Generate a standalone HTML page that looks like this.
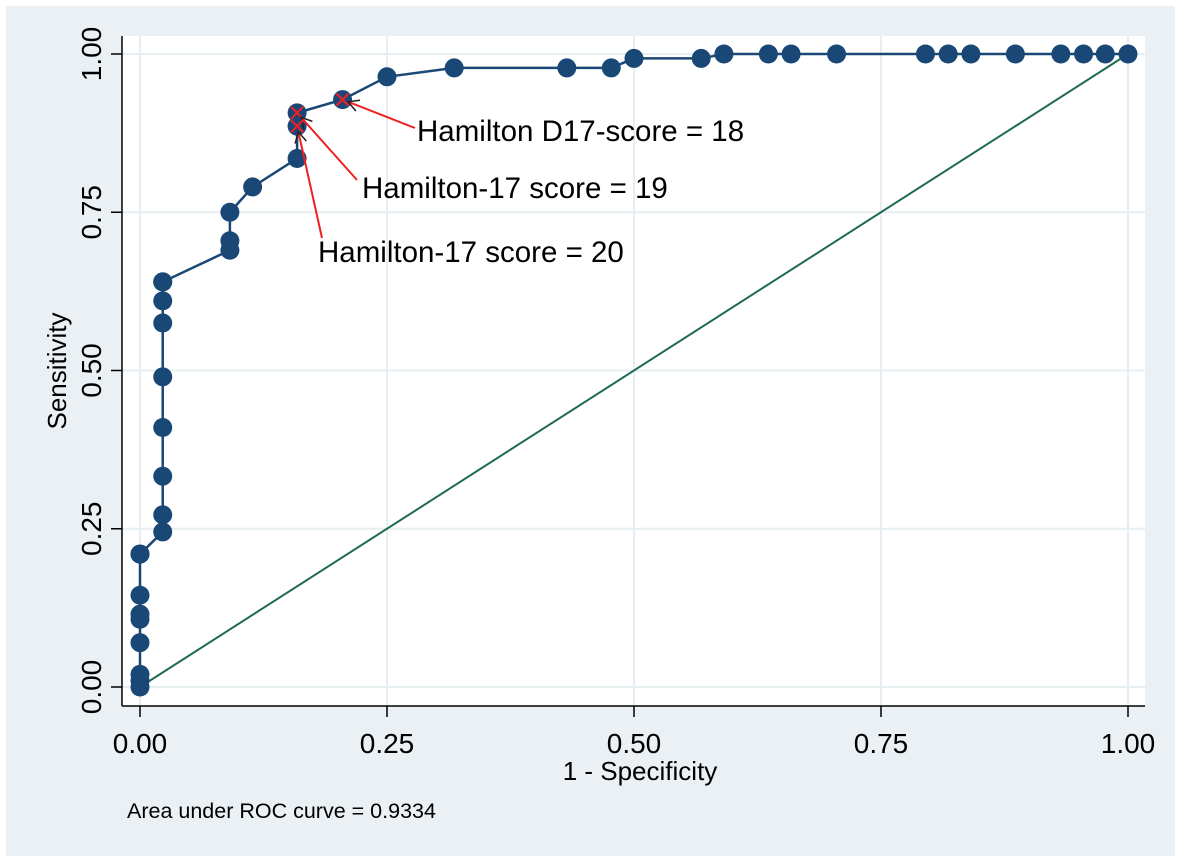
<!DOCTYPE html>
<html><head><meta charset="utf-8"><style>
body{margin:0;background:#fff;width:1181px;height:862px;overflow:hidden;font-family:"Liberation Sans",Arial,sans-serif}
</style></head><body>
<svg id="chart" width="1181" height="862" xmlns="http://www.w3.org/2000/svg" font-family="Liberation Sans, Arial, sans-serif">
<rect x="6" y="6" width="1169" height="850" fill="#eaf0f3"/>
<rect x="122" y="36" width="1023" height="670" fill="#fff"/>
<g id="grid"></g>
<g id="axes"></g>
<line id="ref" stroke="#1e6b52" stroke-width="2"/>
<path id="curve" fill="none" stroke="#1a4876" stroke-width="2.5"/>
<g id="pts"></g>
<g id="ann"></g>
<text x="640" y="780" font-size="26" text-anchor="middle">1 - Specificity</text>
<text transform="translate(66,371) rotate(-90)" font-size="26" text-anchor="middle">Sensitivity</text>
<text x="127" y="818" font-size="21.5">Area under ROC curve = 0.9334</text>
</svg>
<script>
const fpr=[0,0,0,0,0,0,0,0,0,0.023,0.023,0.023,0.023,0.023,0.023,0.023,0.023,0.023,0.091,0.091,0.091,0.114,0.159,0.159,0.159,0.205,0.25,0.318,0.432,0.477,0.5,0.568,0.591,0.636,0.659,0.705,0.795,0.818,0.841,0.886,0.932,0.955,0.977,1];
const tpr=[0,0.01,0.02,0.07,0.107,0.115,0.145,0.21,0.21,0.245,0.272,0.333,0.41,0.49,0.575,0.61,0.64,0.64,0.69,0.705,0.75,0.79,0.835,0.886,0.907,0.928,0.964,0.978,0.978,0.978,0.993,0.993,1,1,1,1,1,1,1,1,1,1,1,1];
const crossX=[0.205,0.159,0.159];
const crossY=[0.928,0.907,0.886];
const ticks=[0,0.25,0.5,0.75,1];
const tickLabels=["0.00","0.25","0.50","0.75","1.00"];
const annText=["Hamilton D17-score = 18","Hamilton-17 score = 19","Hamilton-17 score = 20"];
const NS="http://www.w3.org/2000/svg";
const X=v=>140+v*988, Y=v=>687-v*633;
function mk(t,a,p){const e=document.createElementNS(NS,t);for(const k in a)e.setAttribute(k,a[k]);document.getElementById(p).appendChild(e);return e;}
ticks.forEach((t,i)=>{
 let g=mk('line',{x1:X(t),x2:X(t),y1:36,y2:706,stroke:'#e6eef2','stroke-width':2},'grid');
 
 
 g=mk('line',{x1:122,x2:1145,y1:Y(t),y2:Y(t),stroke:'#e6eef2','stroke-width':2},'grid');
 
 
 let e=mk('line',{x1:X(t),x2:X(t),y1:706,y2:717,stroke:'#000','stroke-width':1.5},'axes');
 
 
 e=mk('text',{x:X(t),y:753,'font-size':28,'text-anchor':'middle'},'axes');e.textContent=tickLabels[i];
 
 
 e=mk('line',{x1:111,x2:122,y1:Y(t),y2:Y(t),stroke:'#000','stroke-width':1.5},'axes');
 
 
 e=mk('text',{transform:`translate(101,${Y(t)}) rotate(-90)`,'font-size':28,'text-anchor':'middle'},'axes');e.textContent=tickLabels[i];
 
 
});
let a=mk('line',{x1:122,x2:122,y1:36,y2:706,stroke:'#000','stroke-width':1.5},'axes');


a=mk('line',{x1:122,x2:1145,y1:706,y2:706,stroke:'#000','stroke-width':1.5},'axes');


const r=document.getElementById('ref');
r.setAttribute('x1',X(0));r.setAttribute('y1',Y(0));r.setAttribute('x2',X(1));r.setAttribute('y2',Y(1));
document.getElementById('curve').setAttribute('d',fpr.map((v,i)=>(i?'L':'M')+X(v)+','+Y(tpr[i])).join(''));
fpr.forEach((v,i)=>{const c=mk('circle',{cx:X(v),cy:Y(tpr[i]),r:9.5,fill:'#1a4876'},'pts');
 
 });
const tx=[417,362,318],ty=[141,198,262],lx=[415,357,322],ly=[128,180,238];
crossX.forEach((v,i)=>{
 const cx=X(v),cy=Y(crossY[i]);
 const g=mk('g',{},'ann');
 
 
 const p=(t,at)=>{const e=document.createElementNS(NS,t);for(const k in at)e.setAttribute(k,at[k]);g.appendChild(e);return e;};
 p('path',{d:`M${cx-6},${cy-6}L${cx+6},${cy+6}M${cx-6},${cy+6}L${cx+6},${cy-6}`,stroke:'#e8202a','stroke-width':2.2,fill:'none'});
 const ang0=Math.atan2(ly[i]-cy,lx[i]-cx);
 const tipx=cx+6*Math.cos(ang0),tipy=cy+6*Math.sin(ang0);
 p('line',{x1:lx[i],y1:ly[i],x2:tipx,y2:tipy,stroke:'#f02020','stroke-width':2});
 const ang=Math.atan2(ly[i]-tipy,lx[i]-tipx);
 const h=(d)=>`${tipx+12*Math.cos(ang+d)},${tipy+12*Math.sin(ang+d)}`;
 p('path',{d:`M${h(0.5)}L${tipx},${tipy}L${h(-0.5)}`,stroke:'#222','stroke-width':1.5,fill:'none'});
 const t=p('text',{x:tx[i],y:ty[i],'font-size':29.5});t.textContent=annText[i];
});
</script>
</body></html>
